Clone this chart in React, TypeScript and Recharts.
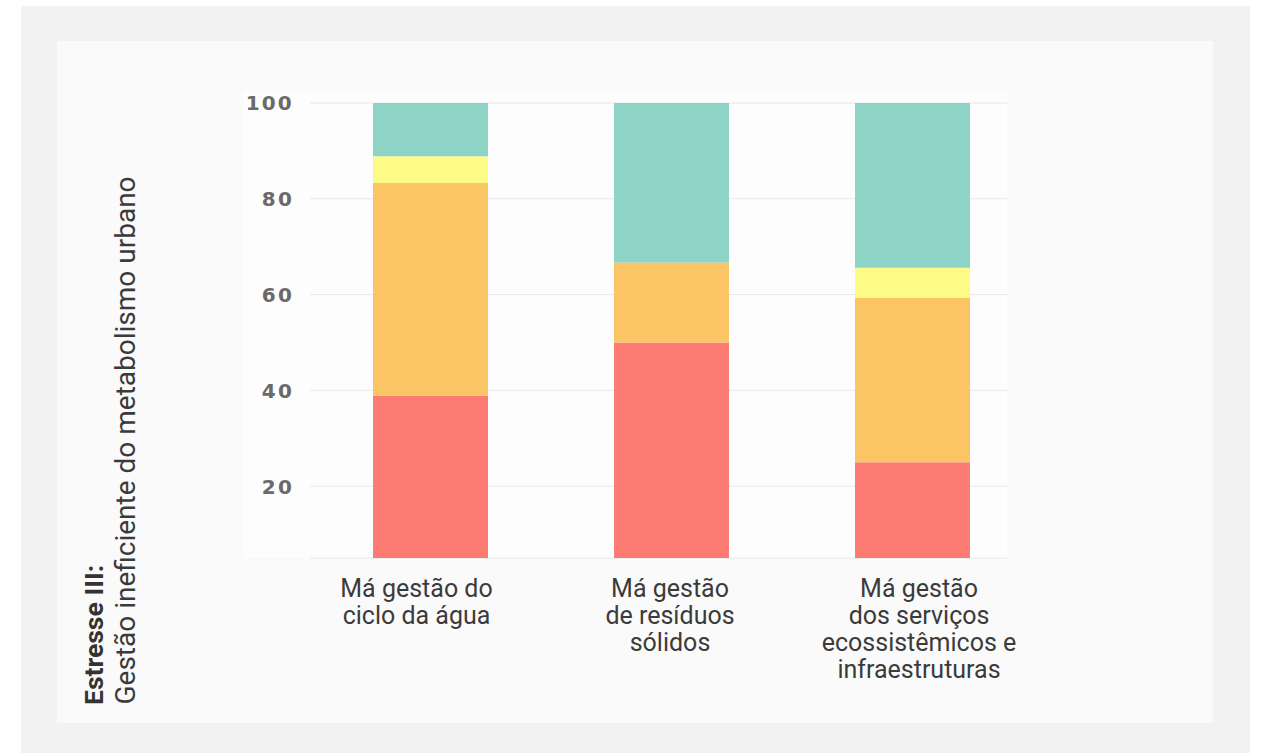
import React from "react";
import { BarChart, Bar, XAxis, YAxis, CartesianGrid } from "recharts";

// Category labels (line breaks mark the wrapped lines under each bar)
const categories = [
  "Má gestão do\nciclo da água",
  "Má gestão\nde resíduos\nsólidos",
  "Má gestão\ndos serviços\necossistêmicos e\ninfraestruturas",
];

// Stacked shares (%), bottom to top
const redShare = [38.9, 50, 25];
const orangeShare = [44.4, 16.7, 34.4];
const yellowShare = [5.6, 0, 6.2];
const tealShare = [11.1, 33.3, 34.4];

const yTicks = [20, 40, 60, 80, 100];

const rows = categories.map((name, i) => ({
  name,
  red: redShare[i],
  orange: orangeShare[i],
  yellow: yellowShare[i],
  teal: tealShare[i],
}));

// small horizontal nudges for the centred category captions
const captionNudge = [-14, -1.5, 6.5];

const COLORS = {
  red: "#fc7b72",
  orange: "#fbc464",
  yellow: "#fcfb86",
  teal: "#8dd4c6",
};

function CategoryTick(props: any) {
  const { x, y, payload, index } = props;
  const lines = String(payload.value).split("\n");
  const cx = x + (captionNudge[index] ?? 0);
  return (
    <text
      x={cx}
      y={y}
      textAnchor="middle"
      fill="#3b3b3b"
      fontFamily="Roboto, 'Noto Sans', sans-serif"
      fontSize={25}
    >
      {lines.map((line, i) => (
        <tspan key={i} x={cx} dy={i === 0 ? 38.5 : 27.3}>
          {line}
        </tspan>
      ))}
    </text>
  );
}

function ValueTick(props: any) {
  const { x, y, payload } = props;
  return (
    <text
      x={x}
      y={y}
      dy="0.37em"
      textAnchor="end"
      fill="#6a6a6a"
      fontFamily="'DejaVu Sans', sans-serif"
      fontWeight={700}
      fontSize={20}
      letterSpacing={2.2}
    >
      {payload.value}
    </text>
  );
}

function AxisTitle() {
  return (
    <g fontFamily="Roboto, 'Noto Sans', sans-serif" fill="#333">
      <text transform="translate(103,705) rotate(-90)" fontSize={26.5} fontWeight={700}>
        Estresse III:
      </text>
      <text transform="translate(135,704.5) rotate(-90)" fontSize={28} fill="#3a3a3a">
        Gestão ineficiente do metabolismo urbano
      </text>
    </g>
  );
}

function GridLine(props: any) {
  const { x1, x2, y1, y2 } = props;
  return <line x1={x1} x2={x2 - 26} y1={y1} y2={y2} stroke="#e8e8e8" strokeWidth={1} />;
}

export default function App() {
  return (
    <div
      style={{
        position: "absolute",
        left: 0,
        top: 0,
        width: 1261,
        height: 753,
        background: "#ffffff",
        overflow: "hidden",
      }}
    >
      <div
        style={{
          position: "absolute",
          left: 21,
          top: 6,
          width: 1229,
          height: 747,
          background: "#f2f2f2",
        }}
      />
      <div
        style={{
          position: "absolute",
          left: 57,
          top: 41,
          width: 1156,
          height: 682,
          background: "#fafafa",
        }}
      />
      <div
        style={{
          position: "absolute",
          left: 243,
          top: 92,
          width: 764,
          height: 466,
          background: "#fdfdfd",
        }}
      />
      <div style={{ position: "absolute", left: 0, top: 0 }}>
        <BarChart
          width={1261}
          height={753}
          data={rows}
          margin={{ top: 103, right: 228, bottom: 75, left: 230 }}
          barSize={115}
        >
          <CartesianGrid vertical={false} horizontal={(p: any) => <GridLine key={p.key} {...p} />} />
          <XAxis
            dataKey="name"
            axisLine={false}
            tickLine={false}
            tickSize={0}
            tickMargin={0}
            height={120}
            interval={0}
            tick={<CategoryTick />}
          />
          <YAxis
            type="number"
            domain={[5, 100]}
            allowDataOverflow
            ticks={yTicks}
            axisLine={false}
            tickLine={false}
            tickSize={0}
            tickMargin={16}
            width={80}
            tick={<ValueTick />}
            label={<AxisTitle />}
          />
          <Bar dataKey="red" stackId="s" fill={COLORS.red} isAnimationActive={false} />
          <Bar dataKey="orange" stackId="s" fill={COLORS.orange} isAnimationActive={false} />
          <Bar dataKey="yellow" stackId="s" fill={COLORS.yellow} isAnimationActive={false} />
          <Bar dataKey="teal" stackId="s" fill={COLORS.teal} isAnimationActive={false} />
        </BarChart>
      </div>
    </div>
  );
}
